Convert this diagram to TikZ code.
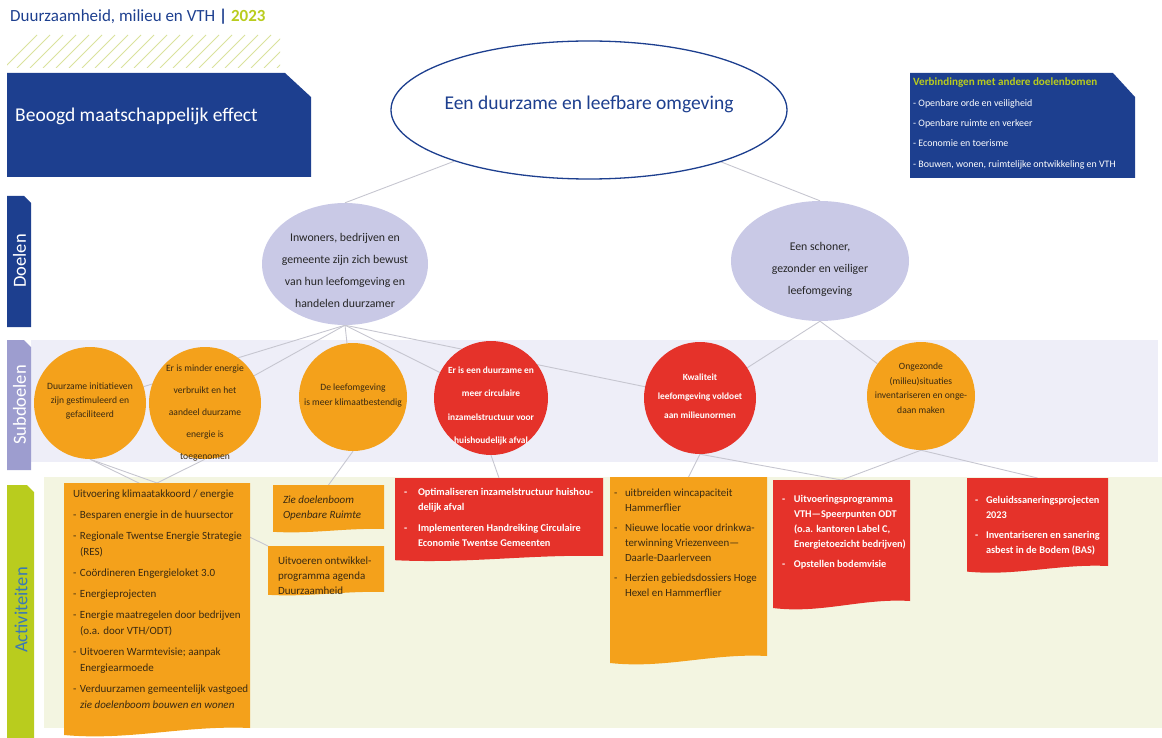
\documentclass[tikz,border=0pt]{standalone}
\usepackage{fontspec}
\setmainfont{Carlito}
\usetikzlibrary{calc,shapes.geometric}

\definecolor{dblue}{HTML}{1D3F8F}
\definecolor{lime}{HTML}{B9CC1E}
\definecolor{lavender}{HTML}{C9C9E6}
\definecolor{tabviolet}{HTML}{9D9DCF}
\definecolor{subband}{HTML}{EEEEF8}
\definecolor{actband}{HTML}{F3F5E1}
\definecolor{vorange}{HTML}{F4A11B}
\definecolor{vred}{HTML}{E5322A}
\definecolor{darktext}{HTML}{3A2A12}
\definecolor{linegray}{HTML}{C6C6D0}
\definecolor{hatch}{HTML}{DAE29C}
\definecolor{tabtext}{HTML}{3A78B5}

\newcommand{\fs}[2]{\fontsize{#1}{#2}\selectfont}
% centred text that does not size its node; optional shift (negative = down)
\newcommand{\ctext}[2][0pt]{\smash{\raisebox{#1}{\makebox[0pt]{\begin{tabular}{@{}c@{}}#2\end{tabular}}}}}
\newcommand{\actitem}[2][7pt]{\par\hangindent=#1\hangafter=1\noindent\makebox[#1][l]{-}#2}
% height, width, left margin, top margin, body
\newcommand{\actlist}[5]{\parbox[t][#1][t]{#2}{\raggedright\leftskip=#3\rightskip=-6pt plus 1fil
  \let\\\newline\setlength{\parskip}{5pt}\vspace*{#4}#5}}
\def\ppbb{path picture bounding box}
\def\wv{10}

\pgfdeclarelayer{bands}
\pgfdeclarelayer{links}
\pgfsetlayers{bands,links,main}

\tikzset{
  link/.style={draw=linegray, line width=0.9pt},
  goal/.style={ellipse, inner sep=0pt, fill=lavender, text=black!85, font=\fs{11.8}{22}},
  subgoal/.style={circle, inner sep=0pt, fill=#1},
  wavedepth/.store in=\wv,
  actbox/.style={anchor=north west, inner sep=0pt, outer sep=0pt,
    path picture={\fill[#1] (\ppbb.north west) -- (\ppbb.north east)
      -- ([yshift={\wv*1pt}]\ppbb.south east)
      .. controls ([yshift={1.3*\wv*1pt}]$(\ppbb.south east)!0.35!(\ppbb.south west)$)
      and ([yshift={-0.3*\wv*1pt}]$(\ppbb.south east)!0.65!(\ppbb.south west)$)
      .. ([yshift={0.3*\wv*1pt}]\ppbb.south west) -- cycle;}},
  tablabel/.style={rotate=90, font=\fs{18.5}{20}}
}

\begin{document}
\begin{tikzpicture}[x=1pt, y=-1pt]
    \useasboundingbox (0,0) rectangle (1162,738);

    % Bands behind the levels
    \begin{pgfonlayer}{bands}
        \fill[subband] (31,340) rectangle (1158,462);
        \fill[actband] (44,477) rectangle (1162,728);
    \end{pgfonlayer}

    % Title and hatching
    \node[anchor=base west, inner sep=0pt, text=dblue, font=\fs{17}{20}] (title) at (10,22)
        {Duurzaamheid, milieu en VTH \textbf{|} \textcolor{lime}{\textbf{2023}}};
    \begin{scope}
        \clip (7,35) rectangle (280,68);
        \foreach \i in {0,...,22}
            \draw[hatch, line width=0.8pt] ({4+\i*13},68) -- ({37+\i*13},35);
    \end{scope}

    % Effect box
    \fill[dblue] (7,73) -- (285,73) -- (311,97) -- (311,177) -- (7,177) -- cycle;
    \node[anchor=west, inner sep=0pt, text=white, font=\fs{19.5}{22}] (effectlbl) at (15,116) {Beoogd maatschappelijk effect};

    % Links to other trees
    \fill[dblue] (910,73) -- (1113,73) -- (1135,97) -- (1135,178) -- (910,178) -- cycle;
    \node[anchor=north west, align=left, inner sep=0pt, text=white, font=\fs{9.9}{20.3}] (connect) at (913,78)
        {{\fs{11.1}{20.3}\bfseries\color{lime}Verbindingen met andere doelenbomen}\\
         - Openbare orde en veiligheid\\
         - Openbare ruimte en verkeer\\
         - Economie en toerisme\\
         - Bouwen, wonen, ruimtelijke ontwikkeling en VTH};

    % Side tabs
    \fill[dblue] (7,196) -- (24,196) -- (31,203) -- (31,327) -- (7,327) -- cycle;
    \node[tablabel, text=white] (tabgoal) at (19.5,261) {Doelen};
    \fill[tabviolet] (7,340) -- (24,340) -- (31,347) -- (31,470) -- (7,470) -- cycle;
    \node[tablabel, text=white] (tabsub) at (19.5,405) {Subdoelen};
    \fill[lime] (7,485) -- (27,485) -- (34,492) -- (34,738) -- (7,738) -- cycle;
    \node[tablabel, text=tabtext] (tabact) at (21,610) {Activiteiten};

    % Societal effect
    \node[ellipse, draw=dblue, line width=1.3pt, fill=white, inner sep=0pt,
          minimum width=396pt, minimum height=138pt, text=dblue, font=\fs{19.5}{22}] (effect) at (589,110)
        {\ctext{Een duurzame en leefbare omgeving}};

    % Goals
    \node[goal, minimum width=166pt, minimum height=122pt] (goalA) at (345,264)
        {\ctext[-9pt]{Inwoners, bedrijven en\\gemeente zijn zich bewust\\van hun leefomgeving en\\handelen duurzamer}};
    \node[goal, minimum width=178pt, minimum height=120pt] (goalB) at (820,261)
        {\ctext[-10pt]{Een schoner,\\gezonder en veiliger\\leefomgeving}};

    % Sub goals
    \node[subgoal=vorange, minimum size=112pt, text=darktext, font=\fs{9.6}{14}] (subA) at (90,403)
        {\ctext{Duurzame initiatieven\\zijn gestimuleerd en\\gefaciliteerd}};
    \node[subgoal=vorange, minimum size=112pt, text=darktext, font=\fs{9.6}{22}] (subB) at (205,403)
        {\ctext[-11pt]{Er is minder energie\\verbruikt en het\\aandeel duurzame\\energie is\\toegenomen}};
    \node[subgoal=vorange, minimum size=108pt, text=darktext, font=\fs{9.6}{15}] (subC) at (353,397)
        {\ctext{De leefomgeving\\is meer klimaatbestendig}};
    \node[subgoal=vred, minimum size=114pt, text=white, font=\bfseries\fs{9.4}{23.5}] (subD) at (491,398)
        {\ctext[-8pt]{Er is een duurzame en\\meer circulaire\\inzamelstructuur voor\\huishoudelijk afval}};
    \node[subgoal=vred, minimum size=112pt, text=white, font=\bfseries\fs{9.4}{19}] (subE) at (700,398)
        {\ctext{Kwaliteit\\leefomgeving voldoet\\aan milieunormen}};
    \node[subgoal=vorange, minimum size=108pt, text=darktext, font=\fs{9.6}{14.5}] (subF) at (921,396)
        {\ctext[5pt]{Ongezonde\\\relax(milieu)situaties\\inventariseren en onge-\\daan maken}};

    % Activities
    \node[actbox=vorange, wavedepth=10, text=darktext, font=\fs{11}{16}] (actA) at (64,483)
        {\actlist{255pt}{186pt}{9pt}{2pt}{Uitvoering klimaatakkoord / energie
         \actitem{Besparen energie in de huursector}
         \actitem{Regionale Twentse Energie Strategie\\(RES)}
         \actitem{Coördineren Engergieloket 3.0}
         \actitem{Energieprojecten}
         \actitem{Energie maatregelen door bedrijven\\(o.a. door VTH/ODT)}
         \actitem{Uitvoeren Warmtevisie; aanpak\\Energiearmoede}
         \actitem{Verduurzamen gemeentelijk vastgoed\\\textit{zie doelenboom bouwen en wonen}}}};
    \node[actbox=vorange, wavedepth=4, text=darktext, font=\fs{11}{15}] (actB) at (273,485)
        {\actlist{48pt}{111pt}{10pt}{6pt}{\itshape Zie doelenboom\\Openbare Ruimte}};
    \node[actbox=vorange, wavedepth=4, text=darktext, font=\fs{11}{15}] (actC) at (268,546)
        {\actlist{50pt}{116pt}{10pt}{6pt}{Uitvoeren ontwikkel-\\programma agenda\\Duurzaamheid}};
    \node[actbox=vred, wavedepth=6, text=white, font=\bfseries\fs{10.3}{15.5}] (actD) at (395,478)
        {\actlist{84pt}{208pt}{9pt}{5pt}{\actitem[14pt]{Optimaliseren inzamelstructuur huishou-\\delijk afval}
         \actitem[14pt]{Implementeren Handreiking Circulaire\\Economie Twentse Gemeenten}}};
    \node[actbox=vorange, wavedepth=10, text=darktext, font=\fs{10.9}{15}] (actE) at (610,477)
        {\actlist{189pt}{157pt}{4pt}{7pt}{\actitem[11pt]{uitbreiden wincapaciteit\\Hammerflier}
         \actitem[11pt]{Nieuwe locatie voor drinkwa-\\terwinning Vriezenveen—\\Daarle-Daarlerveen}
         \actitem[11pt]{Herzien gebiedsdossiers Hoge\\Hexel en Hammerflier}}};
    \node[actbox=vred, wavedepth=10, text=white, font=\bfseries\fs{10.3}{15}] (actF) at (773,480)
        {\actlist{131pt}{137pt}{9pt}{10pt}{\actitem[12pt]{Uitvoeringsprogramma\\VTH—Speerpunten ODT\\(o.a. kantoren Label C,\\Energietoezicht bedrijven)}
         \actitem[12pt]{Opstellen bodemvisie}}};
    \node[actbox=vred, wavedepth=8, text=white, font=\bfseries\fs{10.3}{15}] (actG) at (967,478)
        {\actlist{96pt}{141pt}{8pt}{13pt}{\actitem[11pt]{Geluidssaneringsprojecten\\2023}
         \actitem[11pt]{Inventariseren en sanering\\asbest in de Bodem (BAS)}}};

    % Connectors
    \begin{pgfonlayer}{links}
        \draw[link] (effect) -- (goalA.north);
        \draw[link] (effect) -- (goalB.north);
        \foreach \s in {subA,subB,subC,subD,subE}
            \draw[link] (goalA.south) -- (\s);
        \foreach \s in {subE,subF}
            \draw[link] (goalB.south) -- (\s);
        \draw[link] (subA.south) -- (actA.north);
        \draw[link] (subB.south) -- (actA.north);
        \draw[link] (subA.south) -- (actC.north west);
        \draw[link] (subC.south) -- (actB.north);
        \draw[link] (subD.south) -- (actD.north);
        \draw[link] (subE.south) -- (actE.north);
        \draw[link] (subE.south) -- (actF.north);
        \draw[link] (subF.south) -- (actF.north);
        \draw[link] (subF.south) -- (actG.north);
    \end{pgfonlayer}
\end{tikzpicture}
\end{document}
